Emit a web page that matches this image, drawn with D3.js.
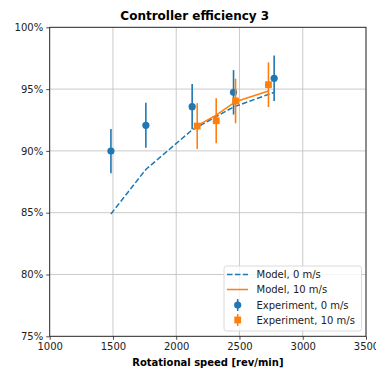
<!DOCTYPE html>
<html>
<head>
<meta charset="utf-8">
<script src="https://cdn.jsdelivr.net/npm/d3@7"></script>
<style>
  html, body { margin: 0; padding: 0; background: #fff; }
  svg { display: block; font-family: "DejaVu Sans", sans-serif; }
</style>
</head>
<body>
<svg id="chart" width="376" height="372"></svg>
<script>
// Measured efficiency with error bars, plus model curves, for two wind speeds
const rpm0      = [1484, 1760, 2126, 2453, 2774];
const exp0      = [89.99, 92.07, 93.58, 94.74, 95.87];
const err0      = [1.79, 1.82, 1.83, 1.80, 1.84];
const model0    = [84.9, 88.5, 91.7, 93.55, 94.74];

const rpm10     = [2166, 2316, 2469, 2729];
const exp10     = [92.01, 92.44, 94.04, 95.36];
const err10     = [1.85, 1.82, 1.80, 1.81];
const model10   = [92.04, 92.9, 93.98, 94.85];

const xTicks = [1000, 1500, 2000, 2500, 3000, 3500];
const yTicks = [75, 80, 85, 90, 95, 100];

const legendLabels = ["Model, 0 m/s", "Model, 10 m/s", "Experiment, 0 m/s", "Experiment, 10 m/s"];

const BLUE = "#1f77b4", ORANGE = "#ff7f0e";

const svg = d3.select("#chart");
const plot = { left: 49.7, right: 366, top: 27.3, bottom: 336.3 };

const x = d3.scaleLinear().domain([1000, 3500]).range([plot.left, plot.right]);
const y = d3.scaleLinear().domain([75, 100]).range([plot.bottom, plot.top]);

// grid
const grid = svg.append("g").attr("stroke", "#c4c4c4").attr("stroke-width", 0.9);
xTicks.forEach(t => grid.append("line")
  .attr("x1", x(t)).attr("x2", x(t)).attr("y1", plot.top).attr("y2", plot.bottom));
yTicks.forEach(t => grid.append("line")
  .attr("x1", plot.left).attr("x2", plot.right).attr("y1", y(t)).attr("y2", y(t)));

// axes
const xAxis = d3.axisBottom(x).tickValues(xTicks).tickSize(3.5).tickPadding(3).tickFormat(d3.format("d"));
const yAxis = d3.axisLeft(y).tickValues(yTicks).tickSize(3.5).tickPadding(3).tickFormat(d => d + "%");

const gx = svg.append("g").attr("transform", `translate(0,${plot.bottom})`).call(xAxis);
const gy = svg.append("g").attr("transform", `translate(${plot.left},0)`).call(yAxis);
[gx, gy].forEach(g => {
  g.select(".domain").remove();
  g.selectAll("text").attr("font-size", 10).attr("fill", "#222").attr("font-family", "DejaVu Sans");
  g.selectAll(".tick line").attr("stroke", "#222").attr("stroke-width", 0.8);
});

// frame
svg.append("rect")
  .attr("x", plot.left).attr("y", plot.top)
  .attr("width", plot.right - plot.left).attr("height", plot.bottom - plot.top)
  .attr("fill", "none").attr("stroke", "#222").attr("stroke-width", 0.9);

// model curves
const line = d3.line().x(d => x(d[0])).y(d => y(d[1]));
svg.append("path")
  .datum(rpm0.map((r, i) => [r, model0[i]]))
  .attr("d", line).attr("fill", "none").attr("stroke", BLUE)
  .attr("stroke-width", 1.5).attr("stroke-dasharray", "5.5,2.4");
svg.append("path")
  .datum(rpm10.map((r, i) => [r, model10[i]]))
  .attr("d", line).attr("fill", "none").attr("stroke", ORANGE)
  .attr("stroke-width", 1.5);

// experimental points with error bars
function drawErrorSeries(rs, vals, errs, color, shape) {
  const g = svg.append("g");
  rs.forEach((r, i) => {
    g.append("line")
      .attr("x1", x(r)).attr("x2", x(r))
      .attr("y1", y(vals[i] + errs[i])).attr("y2", y(vals[i] - errs[i]))
      .attr("stroke", color).attr("stroke-width", 1.6);
    if (shape === "circle") {
      g.append("circle").attr("cx", x(r)).attr("cy", y(vals[i])).attr("r", 3.6).attr("fill", color);
    } else {
      g.append("rect").attr("x", x(r) - 3.4).attr("y", y(vals[i]) - 3.4)
        .attr("width", 6.8).attr("height", 6.8).attr("fill", color);
    }
  });
}
drawErrorSeries(rpm0, exp0, err0, BLUE, "circle");
drawErrorSeries(rpm10, exp10, err10, ORANGE, "square");

// title and axis label
svg.append("text").attr("x", 194.8).attr("y", 19.5).attr("text-anchor", "middle")
  .attr("font-size", 12).attr("font-weight", "bold").attr("fill", "#000")
  .text("Controller efficiency 3");
svg.append("text").attr("x", (plot.left + plot.right) / 2).attr("y", 365.5).attr("text-anchor", "middle")
  .attr("font-size", 10).attr("font-weight", "bold").attr("fill", "#000")
  .text("Rotational speed [rev/min]");

// legend
const lg = svg.append("g").attr("transform", "translate(224,266)");
lg.append("rect").attr("x", 0).attr("y", 0).attr("width", 137.5).attr("height", 65)
  .attr("rx", 2.5).attr("fill", "rgba(255,255,255,0.8)").attr("stroke", "#d6d6d6").attr("stroke-width", 0.9);
const rowY = [8.5, 23.5, 39, 54];
const hx0 = 3, hx1 = 24, hcx = 13.7;
lg.append("line").attr("x1", hx0).attr("x2", hx1).attr("y1", rowY[0]).attr("y2", rowY[0])
  .attr("stroke", BLUE).attr("stroke-width", 1.5).attr("stroke-dasharray", "5.5,2.4");
lg.append("line").attr("x1", hx0).attr("x2", hx1).attr("y1", rowY[1]).attr("y2", rowY[1])
  .attr("stroke", ORANGE).attr("stroke-width", 1.5);
[[BLUE, "circle", rowY[2]], [ORANGE, "square", rowY[3]]].forEach(([c, s, yy]) => {
  lg.append("line").attr("x1", hcx).attr("x2", hcx).attr("y1", yy - 6).attr("y2", yy + 6)
    .attr("stroke", c).attr("stroke-width", 1.6);
  if (s === "circle") lg.append("circle").attr("cx", hcx).attr("cy", yy).attr("r", 3.6).attr("fill", c);
  else lg.append("rect").attr("x", hcx - 3.4).attr("y", yy - 3.4).attr("width", 6.8).attr("height", 6.8).attr("fill", c);
});
legendLabels.forEach((t, i) => {
  lg.append("text").attr("x", 32.5).attr("y", rowY[i] + 3.6)
    .attr("font-size", 10).attr("fill", "#222").text(t);
});
</script>
</body>
</html>
